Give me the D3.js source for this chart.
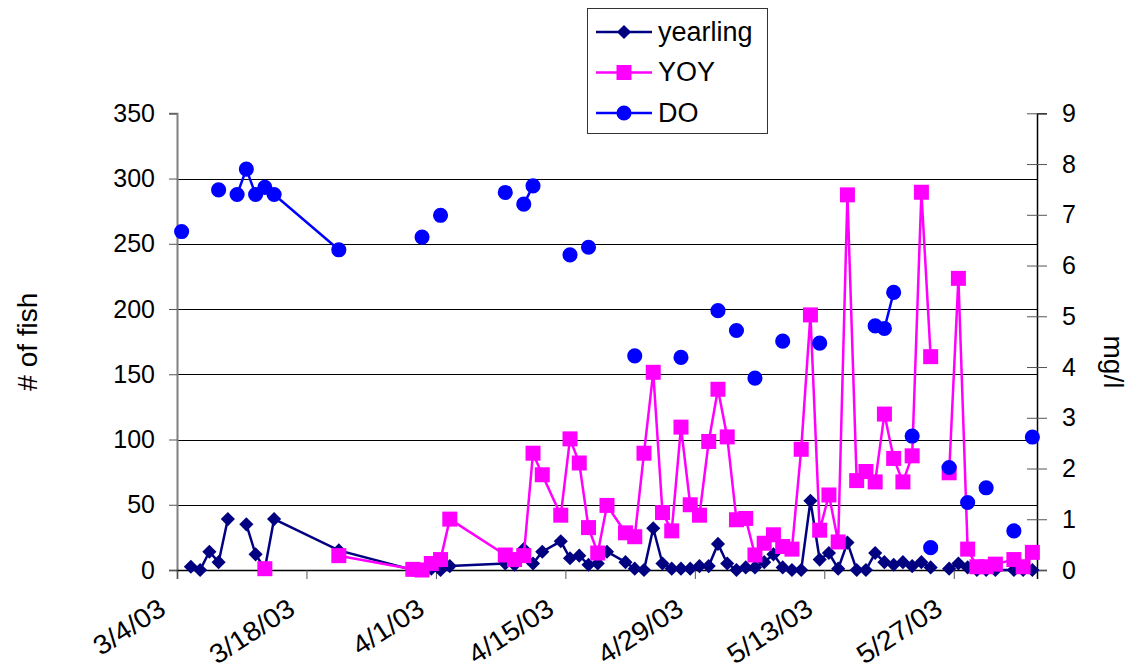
<!DOCTYPE html>
<html>
<head>
<meta charset="UTF-8">
<title>fish counts and DO</title>
<script type="text/javascript" src="https://d3js.org/d3.v7.min.js"></script>
<style>
body { margin: 0; background: #fff; }
text { font-family: "Liberation Sans", Arial, sans-serif; fill: #000; }
</style>
</head>
<body>
<div id="chart"></div>
<script type="text/javascript">

// sample dates (rows of the sheet) and the three series, null = blank cell
var dates = ["3/4/03","3/5/03","3/6/03","3/7/03","3/8/03","3/9/03","3/10/03","3/11/03","3/12/03","3/13/03",
	"3/14/03","3/21/03","3/29/03","3/30/03","3/31/03","4/1/03","4/2/03","4/8/03","4/9/03","4/10/03",
	"4/11/03","4/12/03","4/14/03","4/15/03","4/16/03","4/17/03","4/18/03","4/19/03","4/21/03","4/22/03",
	"4/23/03","4/24/03","4/25/03","4/26/03","4/27/03","4/28/03","4/29/03","4/30/03","5/1/03","5/2/03",
	"5/3/03","5/4/03","5/5/03","5/6/03","5/7/03","5/8/03","5/9/03","5/10/03","5/11/03","5/12/03",
	"5/13/03","5/14/03","5/15/03","5/16/03","5/17/03","5/18/03","5/19/03","5/20/03","5/21/03","5/22/03",
	"5/23/03","5/24/03","5/25/03","5/26/03","5/27/03","5/28/03","5/29/03","5/30/03","5/31/03","6/2/03","6/3/03","6/4/03"]

var yearling = [null,2.5,0,14,6,39,null,35,12,1,
	39,15,0,0,1,0,3,5,4,16,
	5,14,22,9,11,4,5,14,6,1,
	0,32,5,1,1,1,3,3,20,5,
	0,2,2,6,12,2,0,0,53,8,
	13,1,21,0,0,13,6,4,6,3,
	6,2,null,1,5,2,0,0,0,0,0,0]

var yoy = [null,null,null,null,null,null,null,null,null,1,
	null,11,0.5,0,5,8,39,11.5,8,11,
	89.5,73,42,100.5,82,32.5,13,49.5,28.5,25.5,
	89.5,151.5,44,30,109.5,50,42,98.5,138.5,102,
	38.5,39.5,11.5,20.5,27,18,16,92.5,195.5,30.5,
	57.5,21.5,287.5,68.5,75.5,67.5,119.5,85.5,67.5,87.5,
	289.5,163.5,null,74.5,223.5,16,2.5,2.5,4.5,8,2.5,13.5]

var dissolvedO2 = [6.67,null,null,null,7.49,null,7.40,7.90,7.40,7.54,
	7.40,6.31,null,6.56,null,6.99,null,7.44,null,7.21,
	7.57,null,null,6.21,null,6.36,null,null,null,4.22,
	null,null,null,null,4.19,null,null,null,5.11,null,
	4.72,null,3.78,null,null,4.51,null,null,null,4.47,
	null,null,null,null,null,4.81,4.76,5.47,null,2.64,
	null,0.44,null,2.02,null,1.33,null,1.62,null,0.77,null,2.62]

var fishTicks = [0,50,100,150,200,250,300,350]
var mglTicks  = [0,1,2,3,4,5,6,7,8,9]
var dateTicks = ["3/4/03","3/18/03","4/1/03","4/15/03","4/29/03","5/13/03","5/27/03"]

var width   = 1128
var height  = 671
var plotL   = 177
var plotR   = 1037
var plotT   = 113.3
var plotB   = 570

var parse = d3.timeParse("%m/%d/%y")

var x = d3.scaleTime()
	.domain([parse("3/4/03"), parse("6/5/03")])
	.range([plotL, plotR])

var yFish = d3.scaleLinear().domain([0, 350]).range([plotB, plotT])
var yMg   = d3.scaleLinear().domain([0, 9]).range([plotB, plotT])

// points sit in the middle of their day slot
function xMid(i) { return x(d3.timeHour.offset(parse(dates[i]), 12)); }

var svg = d3.select("#chart")
	.append("svg")
	.attr("width", width)
	.attr("height", height)

// gridlines
svg.append("g")
	.selectAll("line")
	.data(fishTicks.filter(function(t) { return t > 0 && t < 350; }))
	.enter().append("line")
	.attr("x1", plotL).attr("x2", plotR)
	.attr("y1", function(d) { return Math.round(yFish(d)) + 0.5; })
	.attr("y2", function(d) { return Math.round(yFish(d)) + 0.5; })
	.attr("stroke", "#000")
	.attr("stroke-width", 1)

// left axis
var leftAxis = svg.append("g")
	.attr("transform", "translate(" + plotL + ",0)")
	.call(d3.axisLeft(yFish).tickValues(fishTicks).tickSize(8).tickPadding(14))
leftAxis.select(".domain").attr("stroke", "#808080").attr("stroke-width", 2)
leftAxis.selectAll(".tick line").attr("stroke", "#555")
leftAxis.selectAll("text")
	.attr("font-size", 25)
	.attr("font-family", "Liberation Sans, Arial, sans-serif")

// right axis, ticks cross the line
var rightAxis = svg.append("g")
	.attr("transform", "translate(" + plotR + ",0)")
	.call(d3.axisRight(yMg).tickValues(mglTicks).tickSize(10).tickPadding(15))
rightAxis.select(".domain").attr("stroke", "#000").attr("stroke-width", 1.5)
rightAxis.selectAll(".tick line").attr("x1", -10).attr("stroke", "#555")
rightAxis.selectAll("text")
	.attr("font-size", 25)
	.attr("font-family", "Liberation Sans, Arial, sans-serif")

// bottom axis
var bottomAxis = svg.append("g")
	.attr("transform", "translate(0," + plotB + ")")
	.call(d3.axisBottom(x).tickValues(dateTicks.map(parse)).tickSize(9).tickFormat(d3.timeFormat("%-m/%-d/%y")))
bottomAxis.select(".domain").attr("stroke", "#000").attr("stroke-width", 1.5)
bottomAxis.selectAll(".tick line").attr("stroke", "#555")
bottomAxis.selectAll("text")
	.attr("font-size", 27)
	.attr("font-family", "Liberation Sans, Arial, sans-serif")
	.attr("text-anchor", "end")
	.attr("y", 0).attr("dy", 0)
	.attr("transform", "translate(-10,43) rotate(-33) scale(1.06,1)")

// axis titles
svg.append("text")
	.attr("transform", "translate(37," + ((plotT + plotB) / 2) + ") rotate(-90)")
	.attr("text-anchor", "middle")
	.attr("font-size", 28)
	.text("# of fish")

svg.append("text")
	.attr("transform", "translate(1104," + 362 + ") rotate(90)")
	.attr("text-anchor", "middle")
	.attr("font-size", 28)
	.text("mg/l")

var series = [
	{ name: "yearling", values: yearling, y: yFish, color: "#000080", shape: "diamond" },
	{ name: "YOY",      values: yoy,      y: yFish, color: "#FF00FF", shape: "square" },
	{ name: "DO",       values: dissolvedO2, y: yMg, color: "#0000FF", shape: "circle" }
]

function marker(shape) {
	if (shape == "diamond") return d3.symbol().type(d3.symbolSquare).size(100)()
	if (shape == "square")  return d3.symbol().type(d3.symbolSquare).size(225)()
	return d3.symbol().type(d3.symbolCircle).size(180)()
}
function markerRotate(shape) { return shape == "diamond" ? " rotate(45)" : ""; }

series.forEach(function(s) {
	var line = d3.line()
		.defined(function(d) { return d != null; })
		.x(function(d, i) { return xMid(i); })
		.y(function(d) { return s.y(d); })

	svg.append("path")
		.datum(s.values)
		.attr("d", line)
		.attr("fill", "none")
		.attr("stroke", s.color)
		.attr("stroke-width", 2.5)

	svg.append("g")
		.selectAll("path")
		.data(s.values.map(function(v, i) { return { v: v, i: i }; }).filter(function(d) { return d.v != null; }))
		.enter().append("path")
		.attr("d", marker(s.shape))
		.attr("transform", function(d) {
			return "translate(" + xMid(d.i) + "," + s.y(d.v) + ")" + markerRotate(s.shape);
		})
		.attr("fill", s.color)
})

// legend
var legend = svg.append("g")
legend.append("rect")
	.attr("x", 587.5).attr("y", 8.5)
	.attr("width", 180).attr("height", 125)
	.attr("fill", "#fff")
	.attr("stroke", "#333")
	.attr("stroke-width", 1)

var rows = legend.selectAll(".row")
	.data(series).enter()
	.append("g")
	.attr("class", "row")
	.attr("transform", function(d, i) { return "translate(0," + (32 + i * 40.5) + ")"; })

rows.append("line")
	.attr("x1", 596).attr("x2", 652)
	.attr("stroke", function(d) { return d.color; })
	.attr("stroke-width", 2.5)
rows.append("path")
	.attr("d", function(d) { return marker(d.shape); })
	.attr("transform", function(d) { return "translate(624,0)" + markerRotate(d.shape); })
	.attr("fill", function(d) { return d.color; })
rows.append("text")
	.attr("x", 658)
	.attr("dy", "0.33em")
	.attr("font-size", 27)
	.text(function(d) { return d.name; })

</script>
</body>
</html>
